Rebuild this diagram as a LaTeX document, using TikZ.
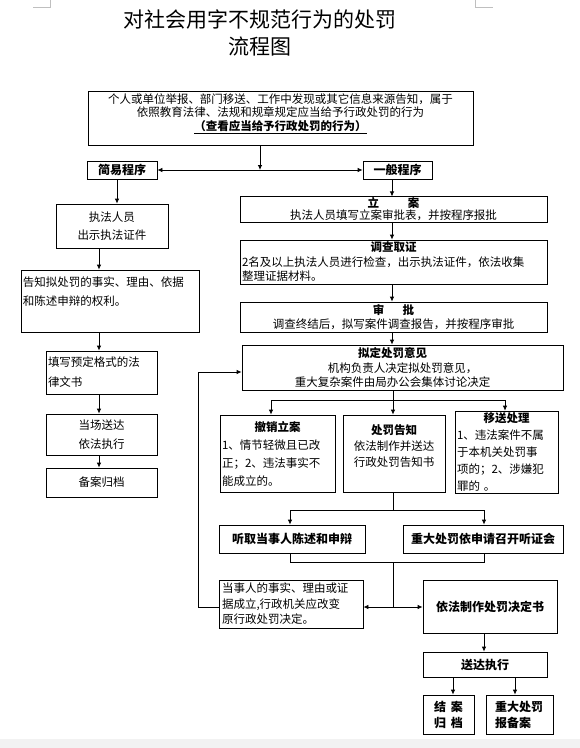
\documentclass[tikz,border=0pt]{standalone}
\usepackage{fontspec}
\setmainfont{Noto Sans CJK SC}
\usepackage{xcolor}
\usepackage{tikz}
\usetikzlibrary{arrows.meta, positioning}

\tikzset{
  box/.style={draw, line width=0.8pt, inner sep=2pt, align=center,
              font=\fontsize{11.5}{15}\selectfont},
  lbox/.style={box, align=left},
  bbox/.style={box, font=\fontsize{12}{16}\selectfont\bfseries},
  arr/.style={-{Latex[length=5pt,width=4.5pt]}, line width=0.8pt},
  ln/.style={line width=0.8pt}
}

\begin{document}
\begin{tikzpicture}[x=1pt, y=-1pt]
  \useasboundingbox (0,0) rectangle (580,748);
  % page corner marks and bottom bar
  \draw[gray!50, line width=0.5pt] (33,7) -- (50,7) -- (50,0);
  \draw[gray!50, line width=0.5pt] (475,0) -- (475,7) -- (493,7);
  \fill[gray!10] (0,739) rectangle (580,748);

  \node[font=\fontsize{21}{27}\selectfont, align=center] (title) at (260,33)
    {对社会用字不规范行为的处罚\\流程图};

  \node[box, minimum width=385pt, minimum height=53pt,
        font=\fontsize{11.5}{13.5}\selectfont] (src) at (280.5,118.5)
    {个人或单位举报、部门移送、工作中发现或其它信息来源告知，属于\\
     依照教育法律、法规和规章规定应当给予行政处罚的行为\\
     \underline{\textbf{（查看应当给予行政处罚的行为）}}\\ ~};

  \node[bbox, minimum width=70pt, minimum height=18pt] (simp) at (122,170) {简易程序};
  \node[bbox, minimum width=69pt, minimum height=18pt] (gen) at (397.5,170) {一般程序};

  % simple procedure
  \node[box, minimum width=112pt, minimum height=44pt,
        font=\fontsize{11.5}{18}\selectfont] (zf) at (112,226) {执法人员\\出示执法证件};
  \node[lbox, text width=174pt, minimum height=62pt,
        font=\fontsize{11.5}{19}\selectfont] (gz) at (110,301)
    {告知拟处罚的事实、理由、依据\\和陈述申辩的权利。\\ ~};
  \node[lbox, text width=107pt, minimum height=43pt,
        font=\fontsize{11.5}{20}\selectfont] (tx) at (101.5,372.5)
    {填写预定格式的法\\律文书};
  \node[box, minimum width=111pt, minimum height=41pt,
        font=\fontsize{11.5}{19}\selectfont] (dc) at (101.5,434.5) {当场送达\\依法执行};
  \node[box, minimum width=111pt, minimum height=29pt] (ba) at (101.5,482.5) {备案归档};

  % general procedure
  \node[box, minimum width=307pt, minimum height=25pt, inner sep=1pt,
        font=\fontsize{11.5}{12}\selectfont] (la) at (393.5,209.5)
    {\textbf{立\hspace{2.5em}案}\\执法人员填写立案审批表，并按程序报批};
  \node[lbox, text width=303pt, minimum height=44pt,
        font=\fontsize{11.5}{14.5}\selectfont] (dcqz) at (393.5,262)
    {{\centering\textbf{调查取证}\par}2名及以上执法人员进行检查，出示执法证件，依法收集\\整理证据材料。};
  \node[box, minimum width=307pt, minimum height=30pt,
        font=\fontsize{11.5}{14.5}\selectfont] (sp) at (393.5,317)
    {\textbf{审\hspace{1.6em}批}\\调查终结后，拟写案件调查报告，并按程序审批};
  \node[box, minimum width=321pt, minimum height=45pt,
        font=\fontsize{11.5}{14.5}\selectfont] (nd) at (402.5,367.5)
    {\textbf{拟定处罚意见}\hspace*{20pt}\\机构负责人决定拟处罚意见，\hspace*{20pt}\\
     重大复杂案件由局办公会集体讨论决定\hspace*{20pt}};

  \node[lbox, text width=111pt, minimum height=77pt,
        font=\fontsize{11.5}{18}\selectfont] (cx) at (277.5,453.5)
    {{\centering\textbf{撤销立案}\par}1、情节轻微且已改\\正；2、违法事实不\\能成立的。};
  \node[box, minimum width=102pt, minimum height=77pt,
        font=\fontsize{11.5}{16}\selectfont] (gzs) at (394,453.5)
    {\textbf{处罚告知}\\依法制作并送达\\行政处罚告知书\\ ~};
  \node[lbox, text width=99pt, minimum height=75pt,
        font=\fontsize{11.5}{17}\selectfont] (ys) at (506.5,452.5)
    {{\centering\textbf{移送处理}\par}1、违法案件不属\\于本机关处罚事\\项的；2、涉嫌犯\\罪的 。};

  \node[bbox, minimum width=146pt, minimum height=28pt] (tq) at (292,539) {听取当事人陈述和申辩};
  \node[bbox, minimum width=160pt, minimum height=28pt] (zd) at (483,539) {重大处罚依申请召开听证会};

  \node[lbox, text width=138pt, minimum height=48pt, inner xsep=3pt,
        font=\fontsize{11.5}{15.5}\selectfont] (ds) at (291,604)
    {当事人的事实、理由或证\\据成立,行政机关应改变\\原行政处罚决定。};
  \node[bbox, minimum width=134pt, minimum height=53pt] (yf) at (490,606.5) {依法制作处罚决定书};
  \node[bbox, minimum width=124pt, minimum height=25pt] (sd) at (485,664.5) {送达执行};
  \node[bbox, minimum width=51pt, minimum height=39pt] (ja) at (448.5,714.5)
    {结\hspace{0.4em}案\\归\hspace{0.4em}档};
  \node[bbox, align=left, text width=49pt, minimum width=67pt, minimum height=39pt] (bb) at (519.5,714.5)
    {重大处罚\\报备案};

  % connectors
  \coordinate (fork) at (260,170);
  \draw[arr] (fork |- src.south) -- (fork);
  \draw[arr] (fork) -- (simp.east);
  \draw[arr] (fork) -- (gen.west);

  \draw[arr] ([xshift=-5pt]simp.south) -- ([xshift=-5pt]simp.south |- zf.north);
  \coordinate (lc) at (99,0);
  \foreach \a/\b in {zf/gz, gz/tx, tx/dc, dc/ba}
    \draw[arr] (lc |- \a.south) -- (lc |- \b.north);

  \coordinate (rc) at (392,0);
  \draw[arr] (rc |- gen.south) -- (rc |- la.north);
  \foreach \a/\b in {la/dcqz, dcqz/sp, sp/nd}
    \draw[arr] (rc |- \a.south) -- (rc |- \b.north);

  % first split
  \coordinate (b1) at (393,400);
  \coordinate (b1l) at (271,400);
  \coordinate (b1r) at (505,400);
  \draw[ln] (b1 |- nd.south) -- (b1);
  \draw[ln] (b1l) -- (b1r);
  \draw[arr] (b1l) -- (b1l |- cx.north);
  \draw[arr] (b1) -- (b1 |- gzs.north);
  \draw[arr] (b1r) -- (b1r |- ys.north);

  % second split
  \coordinate (b2) at (393,510);
  \coordinate (b2l) at (290,510);
  \coordinate (b2r) at (484,510);
  \draw[ln] (b2 |- gzs.south) -- (b2);
  \draw[ln] (b2l) -- (b2r);
  \draw[arr] (b2l) -- (b2l |- tq.north);
  \draw[arr] (b2r) -- (b2r |- zd.north);

  % join and decision
  \coordinate (j1) at (393,562);
  \coordinate (j2) at (393,607);
  \draw[ln] (b2l |- tq.south) -- (b2l |- j1) -- (b2r |- j1) -- (b2r |- zd.south);
  \draw[ln] (j1) -- (j2);
  \draw[arr] (j2) -- (j2 -| ds.east);
  \draw[arr] (j2) -- (j2 -| yf.west);
  \coordinate (lp) at (198,372);
  \draw[arr] (j2 -| ds.west) -| (lp) -- (lp -| nd.west);

  \coordinate (bc) at (484,0);
  \coordinate (o1) at (453,0);
  \coordinate (o2) at (515,0);
  \draw[arr] (bc |- yf.south) -- (bc |- sd.north);
  \draw[arr] (o1 |- sd.south) -- (o1 |- ja.north);
  \draw[arr] (o2 |- sd.south) -- (o2 |- bb.north);
\end{tikzpicture}
\end{document}
